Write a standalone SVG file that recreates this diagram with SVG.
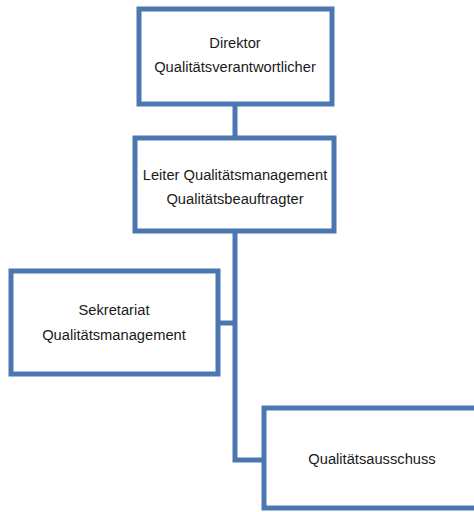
<svg xmlns="http://www.w3.org/2000/svg" width="474" height="512" viewBox="0 0 474 512">
<style>
.box{fill:#fff;stroke:#4a77b0;stroke-width:5}
.con{fill:none;stroke:#4a77b0;stroke-width:5}
text{font-family:"Liberation Sans",Arial,sans-serif;font-size:14.7px;fill:#1a1a1a;text-anchor:middle}
</style>
<rect width="474" height="512" fill="#fff"/>
<g id="connectors">
<line class="con" x1="235" y1="104" x2="235" y2="138"/>
<polyline class="con" points="235,230 235,460 264,460"/>
<line class="con" x1="218" y1="323" x2="235" y2="323"/>
</g>
<g id="direktor">
<rect class="box" x="139" y="9" width="193" height="95"/>
<text x="235" y="48">Direktor</text>
<text x="235" y="72">Qualitätsverantwortlicher</text>
</g>
<g id="leiter">
<rect class="box" x="135" y="138" width="199" height="93"/>
<text x="235" y="180">Leiter Qualitätsmanagement</text>
<text x="235" y="204">Qualitätsbeauftragter</text>
</g>
<g id="sekretariat">
<rect class="box" x="11" y="271" width="207" height="103"/>
<text x="114" y="315">Sekretariat</text>
<text x="114" y="340">Qualitätsmanagement</text>
</g>
<g id="ausschuss">
<rect class="box" x="264" y="408" width="230" height="100"/>
<text x="372" y="464">Qualitätsausschuss</text>
</g>
</svg>
